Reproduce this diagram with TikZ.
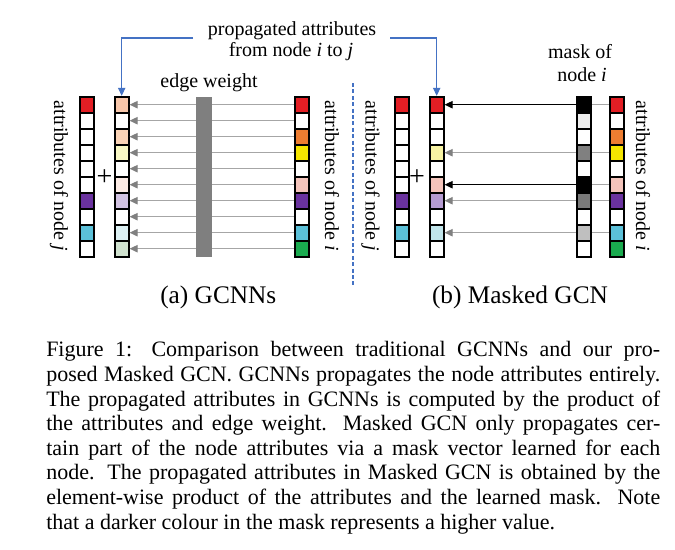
\documentclass[tikz,border=0pt]{standalone}
\usepackage{fontspec}
\setmainfont{Liberation Serif}
\usetikzlibrary{arrows.meta,calc}
\definecolor{cRed}{HTML}{E31E24}
\definecolor{cOrange}{HTML}{ED7D31}
\definecolor{cYellow}{HTML}{F5E500}
\definecolor{cPink}{HTML}{F4C4BB}
\definecolor{cPurple}{HTML}{6A329F}
\definecolor{cCyan}{HTML}{5BC0D8}
\definecolor{cGreen}{HTML}{1AAB4F}
\definecolor{pA}{HTML}{F7C6AA}
\definecolor{pC}{HTML}{FAD3B6}
\definecolor{pD}{HTML}{F8F7C4}
\definecolor{pF}{HTML}{FBEAE4}
\definecolor{pG}{HTML}{D2C3E2}
\definecolor{pI}{HTML}{DCF0F3}
\definecolor{pJ}{HTML}{D0E2CF}
\definecolor{qD}{HTML}{F7F3A3}
\definecolor{qG}{HTML}{B59BD1}
\definecolor{qI}{HTML}{C0E4EA}
\definecolor{mB}{HTML}{EEEEEE}
\definecolor{mD}{HTML}{808080}
\definecolor{mG}{HTML}{7A7A7A}
\definecolor{mI}{HTML}{BFBFBF}
\definecolor{barGray}{HTML}{7F7F7F}
\definecolor{lineGray}{HTML}{A6A6A6}
\definecolor{tipGray}{HTML}{808080}
\definecolor{cBlue}{HTML}{4472C4}
\begin{document}
\begin{tikzpicture}[x=0.75pt,y=-0.75pt,
  cell/.style={draw=black,line width=1.3pt,minimum width=10.5pt,minimum height=12pt,inner sep=0pt},
  garrow/.style={draw=lineGray,line width=0.8pt,-{Triangle[length=6pt,width=5.5pt,color=tipGray]}},
  barrow/.style={draw=black,line width=0.8pt,-{Triangle[length=6pt,width=5.5pt]}},
  gline/.style={draw=lineGray,line width=0.8pt},
  blueconn/.style={draw=cBlue,line width=0.8pt,-{Triangle[length=6pt,width=5.5pt]}},
  lbl/.style={font=\fontsize{15}{18}\selectfont,inner sep=0pt},
  pluslbl/.style={font=\fontsize{21}{24}\selectfont,inner sep=0pt},
  sublbl/.style={font=\fontsize{19}{23}\selectfont,inner sep=0pt},
  captxt/.style={font=\fontsize{16.5}{18.5}\selectfont,inner sep=0pt,anchor=base west}
]
\useasboundingbox[fill=white] (0,0) rectangle (675,550);

% ---------- left panel ----------
\foreach \c [count=\k] in {cRed,white,white,white,white,white,cPurple,white,cCyan,white}
  \node[cell,fill=\c] (Lj-\k) at (86.7,{104.7+16*(\k-1)}) {};
\foreach \c [count=\k] in {pA,white,pC,pD,white,pF,pG,white,pI,pJ}
  \node[cell,fill=\c] (Lp-\k) at (121.7,{104.7+16*(\k-1)}) {};
\foreach \c [count=\k] in {cRed,white,cOrange,cYellow,white,cPink,cPurple,white,cCyan,cGreen}
  \node[cell,fill=\c] (Li-\k) at (301.8,{104.7+16*(\k-1)}) {};
\foreach \k in {1,...,10}
  \draw[garrow] (Li-\k.west) -- (Lp-\k.east);
\node[fill=barGray,minimum width=12pt,minimum height=120pt,inner sep=0pt] (ew) at (203.7,176.7) {};
\node[lbl,anchor=base] (ewl) at (209,87) {edge weight};
\node[pluslbl] (plusL) at (104.5,178) {+};
\node[lbl,rotate=-90] (ljl) at (59,176) {attributes of node \textit{j}};
\node[lbl,rotate=-90] (lil) at (332,176) {attributes of node \textit{i}};
\node[sublbl,anchor=base] (suba) at (218.3,303) {(a) GCNNs};

% ---------- top label ----------
\node[lbl,anchor=base] (top1) at (292,35) {propagated attributes};
\node[lbl,anchor=base] (top2) at (291,56.5) {from node \textit{i} to \textit{j}};
\coordinate (cl) at (193,38);
\coordinate (cr) at (390,38);
\draw[blueconn] (cl) -| (Lp-1.north);

% ---------- divider ----------
\coordinate (d1) at (353,83);
\coordinate (d2) at (353,286);
\draw[cBlue,line width=0.9pt,dash pattern=on 3pt off 1.8pt] (d1) -- (d2);

% ---------- right panel ----------
\foreach \c [count=\k] in {cRed,white,white,white,white,white,cPurple,white,cCyan,white}
  \node[cell,fill=\c] (Rj-\k) at (401.8,{104.7+16*(\k-1)}) {};
\foreach \c [count=\k] in {cRed,white,white,qD,white,cPink,qG,white,qI,white}
  \node[cell,fill=\c] (Rp-\k) at (436.7,{104.7+16*(\k-1)}) {};
\foreach \c [count=\k] in {black,mB,white,mD,white,black,mG,white,mI,white}
  \node[cell,fill=\c] (M-\k) at (583.8,{104.7+16*(\k-1)}) {};
\foreach \c [count=\k] in {cRed,white,cOrange,cYellow,white,cPink,cPurple,white,cCyan,cGreen}
  \node[cell,fill=\c] (Ri-\k) at (616.7,{104.7+16*(\k-1)}) {};
\foreach \k in {1,4,6,7,9}
  \draw[gline] (Ri-\k.west) -- (M-\k.east);
\foreach \k in {4,7,9}
  \draw[garrow] (M-\k.west) -- (Rp-\k.east);
\foreach \k in {1,6}
  \draw[barrow] (M-\k.west) -- (Rp-\k.east);
\draw[blueconn] (cr) -| (Rp-1.north);
\node[pluslbl] (plusR) at (417,178) {+};
\node[lbl,rotate=-90] (rjl) at (370.5,176) {attributes of node \textit{j}};
\node[lbl,rotate=-90] (ril) at (643,176) {attributes of node \textit{i}};
\node[lbl,anchor=base] (mk1) at (580,58.3) {mask of};
\node[lbl,anchor=base] (mk2) at (582,81) {node \textit{i}};
\node[sublbl,anchor=base] (subb) at (520,303) {(b) Masked GCN};

% ---------- caption ----------
\node[captxt] (cap1) at (46,356.8) {\makebox[460.5pt][s]{Figure 1: Comparison between traditional GCNNs and our pro-}};
\node[captxt] (cap2) at (46,381.4) {\makebox[460.5pt][s]{posed Masked GCN. GCNNs propagates the node attributes entirely.}};
\node[captxt] (cap3) at (46,406.0) {\makebox[460.5pt][s]{The propagated attributes in GCNNs is computed by the product of}};
\node[captxt] (cap4) at (46,430.6) {\makebox[460.5pt][s]{the attributes and edge weight. Masked GCN only propagates cer-}};
\node[captxt] (cap5) at (46,455.2) {\makebox[460.5pt][s]{tain part of the node attributes via a mask vector learned for each}};
\node[captxt] (cap6) at (46,479.8) {\makebox[460.5pt][s]{node. The propagated attributes in Masked GCN is obtained by the}};
\node[captxt] (cap7) at (46,504.4) {\makebox[460.5pt][s]{element-wise product of the attributes and the learned mask. Note}};
\node[captxt] (cap8) at (46,529.0) {that a darker colour in the mask represents a higher value.};
\end{tikzpicture}
\end{document}
